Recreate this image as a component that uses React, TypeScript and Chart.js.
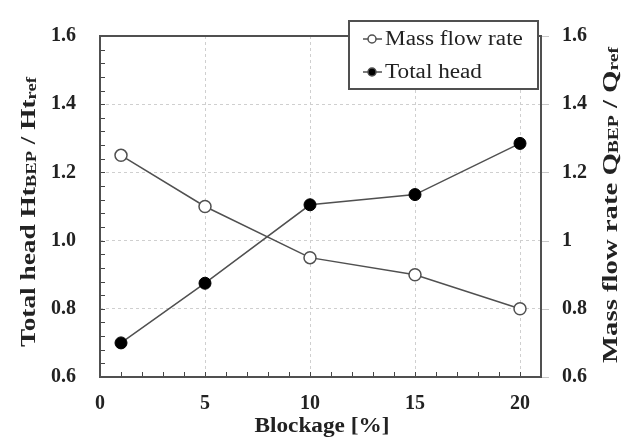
import React, { useEffect, useRef } from "react";
import { Chart, registerables } from "chart.js";

Chart.register(...registerables);

// ---- data ----
const blockage = [1, 5, 10, 15, 20];
const massFlowRate = [1.25, 1.1, 0.95, 0.9, 0.8];
const totalHead = [0.7, 0.875, 1.105, 1.135, 1.285];
const seriesLabels = ["Mass flow rate", "Total head"];
const xTickValues = [0, 5, 10, 15, 20];
const X_MIN = 0;
const X_MAX = 21;
const Y_MIN = 0.6;
const Y_MAX = 1.6;
const Y_STEP = 0.2;
const Y_MINOR = 0.04;
const X_MINOR = 1;
const xTitle = "Blockage [%]";
const leftTitleParts = [
  { text: "Total head Ht", sub: false },
  { text: "BEP", sub: true },
  { text: " / Ht", sub: false },
  { text: "ref", sub: true },
];
const rightTitleParts = [
  { text: "Mass flow rate Q", sub: false },
  { text: "BEP", sub: true },
  { text: " / Q", sub: false },
  { text: "ref", sub: true },
];

const SERIF = "'Liberation Serif', 'DejaVu Serif', serif";
const LINE = "#505050";

function drawRich(ctx: CanvasRenderingContext2D, parts: any[], o: any) {
  ctx.save();
  ctx.translate(o.x, o.y);
  ctx.rotate(o.angle);
  const widths: number[] = [];
  let total = 0;
  for (const p of parts) {
    ctx.font = p.sub ? o.subFont : o.mainFont;
    const w = ctx.measureText(p.text).width;
    widths.push(w);
    total += w;
  }
  const s = o.length ? o.length / total : 1;
  ctx.scale(s, 1);
  ctx.textAlign = "left";
  ctx.textBaseline = "alphabetic";
  ctx.fillStyle = "#222";
  let cur = -total / 2;
  parts.forEach((p, i) => {
    ctx.font = p.sub ? o.subFont : o.mainFont;
    ctx.fillText(p.text, cur, p.sub ? o.subShift : 0);
    cur += widths[i];
  });
  ctx.restore();
}

const decor = {
  id: "decor",
  afterDraw(chart: any) {
    const ctx: CanvasRenderingContext2D = chart.ctx;
    const { left, right, top, bottom } = chart.chartArea;
    const { x, y } = chart.scales;
    ctx.save();
    // inner ticks on left axis
    ctx.strokeStyle = "#444";
    ctx.lineWidth = 1;
    const nY = Math.round((Y_MAX - Y_MIN) / Y_MINOR);
    for (let i = 1; i < nY; i++) {
      const py = Math.round(y.getPixelForValue(Y_MIN + i * Y_MINOR)) + 0.5;
      ctx.beginPath();
      ctx.moveTo(left, py);
      ctx.lineTo(left + 5, py);
      ctx.stroke();
    }
    const nX = Math.round((X_MAX - X_MIN) / X_MINOR);
    for (let i = 1; i < nX; i++) {
      const px = Math.round(x.getPixelForValue(X_MIN + i * X_MINOR)) + 0.5;
      ctx.beginPath();
      ctx.moveTo(px, bottom);
      ctx.lineTo(px, bottom - 5);
      ctx.stroke();
    }
    // outer light ticks on right axis
    ctx.strokeStyle = "#c8c8c8";
    const nMaj = Math.round((Y_MAX - Y_MIN) / Y_STEP);
    for (let i = 0; i <= nMaj; i++) {
      const py = Math.round(y.getPixelForValue(Y_MIN + i * Y_STEP)) + 0.5;
      ctx.beginPath();
      ctx.moveTo(right, py);
      ctx.lineTo(right + 8, py);
      ctx.stroke();
    }
    // frame
    ctx.strokeStyle = LINE;
    ctx.lineWidth = 2;
    ctx.strokeRect(left, top, right - left, bottom - top);

    // legend
    const lx = 349, ly = 21, lw = 189, lh = 68;
    ctx.fillStyle = "#fff";
    ctx.fillRect(lx, ly, lw, lh);
    ctx.strokeStyle = LINE;
    ctx.lineWidth = 2;
    ctx.strokeRect(lx, ly, lw, lh);
    const items = chart.data.datasets.map((d: any, i: number) => ({
      label: d.label,
      fill: d.pointBackgroundColor,
      cy: i === 0 ? 39 : 72,
      base: i === 0 ? 45 : 78,
    }));
    for (const it of items) {
      ctx.strokeStyle = LINE;
      ctx.lineWidth = 1.5;
      ctx.beginPath();
      ctx.moveTo(363, it.cy);
      ctx.lineTo(382, it.cy);
      ctx.stroke();
      ctx.beginPath();
      ctx.arc(372, it.cy, 4, 0, Math.PI * 2);
      ctx.fillStyle = it.fill;
      ctx.fill();
      ctx.stroke();
      ctx.save();
      ctx.translate(385, it.base);
      ctx.scale(1.16, 1);
      ctx.fillStyle = "#222";
      ctx.font = `20px ${SERIF}`;
      ctx.textAlign = "left";
      ctx.textBaseline = "alphabetic";
      ctx.fillText(it.label, 0, 0);
      ctx.restore();
    }

    // titles
    drawRich(ctx, [{ text: xTitle, sub: false }], {
      x: 322, y: 432, angle: 0, length: 135,
      mainFont: `bold 20px ${SERIF}`, subFont: `bold 14px ${SERIF}`, subShift: 0,
    });
    drawRich(ctx, leftTitleParts, {
      x: 35, y: 212, angle: -Math.PI / 2, length: 270,
      mainFont: `bold 22px ${SERIF}`, subFont: `bold 15px ${SERIF}`, subShift: 1,
    });
    drawRich(ctx, rightTitleParts, {
      x: 617, y: 205, angle: -Math.PI / 2, length: 316,
      mainFont: `bold 22px ${SERIF}`, subFont: `bold 15px ${SERIF}`, subShift: 1,
    });
    ctx.restore();
  },
};

export default function App() {
  const ref = useRef<HTMLCanvasElement>(null);
  useEffect(() => {
    if (!ref.current) return;
    const tickFont = { family: SERIF, size: 20, weight: "bold" as const };
    const chart = new Chart(ref.current, {
      type: "line",
      data: {
        datasets: [
          {
            label: seriesLabels[0],
            data: blockage.map((b, i) => ({ x: b, y: massFlowRate[i] })),
            yAxisID: "y1",
            borderColor: LINE,
            borderWidth: 1.5,
            pointRadius: 6,
            pointBorderWidth: 1.5,
            pointBackgroundColor: "#fff",
            pointBorderColor: LINE,
            tension: 0,
            clip: false as any,
          },
          {
            label: seriesLabels[1],
            data: blockage.map((b, i) => ({ x: b, y: totalHead[i] })),
            yAxisID: "y",
            borderColor: LINE,
            borderWidth: 1.5,
            pointRadius: 6,
            pointBorderWidth: 1,
            pointBackgroundColor: "#000",
            pointBorderColor: "#000",
            tension: 0,
            clip: false as any,
          },
        ],
      },
      options: {
        responsive: false,
        animation: false,
        layout: { padding: { top: 17, left: 0, right: 0, bottom: 0 } },
        plugins: { legend: { display: false }, tooltip: { enabled: false }, title: { display: false } },
        scales: {
          x: {
            type: "linear",
            min: X_MIN,
            max: X_MAX,
            afterBuildTicks: (s: any) => {
              s.ticks = xTickValues.map((v) => ({ value: v }));
            },
            afterFit: (s: any) => {
              s.height = 63;
            },
            ticks: { font: tickFont, color: "#222", padding: 15, maxRotation: 0 },
            grid: { color: "#cfcfcf", lineWidth: 1, drawTicks: false },
            border: { display: false, dash: [3, 3] },
          },
          y: {
            type: "linear",
            position: "left",
            min: Y_MIN,
            max: Y_MAX,
            ticks: {
              stepSize: Y_STEP,
              font: tickFont,
              color: "#222",
              padding: 24,
              callback: (v: any) => Number(v).toFixed(1),
            },
            afterFit: (s: any) => {
              s.width = 100;
            },
            grid: { color: "#cfcfcf", lineWidth: 1, drawTicks: false },
            border: { display: false, dash: [3, 3] },
          },
          y1: {
            type: "linear",
            position: "right",
            min: Y_MIN,
            max: Y_MAX,
            ticks: {
              stepSize: Y_STEP,
              font: tickFont,
              color: "#222",
              padding: 21,
              callback: (v: any) => String(Number(Number(v).toFixed(1))),
            },
            afterFit: (s: any) => {
              s.width = 88;
            },
            grid: { drawOnChartArea: false, drawTicks: false },
            border: { display: false },
          },
        },
      },
      plugins: [decor],
    });
    return () => chart.destroy();
  }, []);
  return (
    <div style={{ position: "absolute", left: 0, top: 0, width: 629, height: 440, background: "#fff" }}>
      <canvas ref={ref} width={629} height={440} style={{ display: "block" }} />
    </div>
  );
}
